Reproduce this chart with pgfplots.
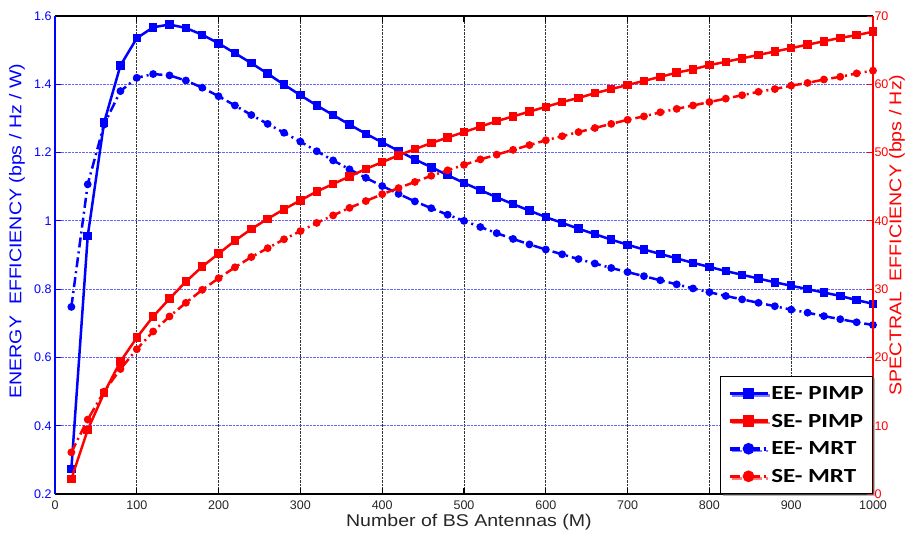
\documentclass[border=0pt]{standalone}
\usepackage{fontspec}
\setmainfont{Liberation Sans}
\newfontfamily\labelfont[FakeStretch=1.15]{Liberation Sans}
\newfontfamily\legfont[FakeStretch=1.25]{Carlito}
\usepackage{pgfplots}
\pgfplotsset{compat=1.18}
\usetikzlibrary{shadows}

\pgfplotsset{
  common/.style={
    scale only axis, width=818pt, height=478pt,
    xmin=0, xmax=1000,
    tick align=inside,
    major tick length=6pt,
    /pgf/number format/assume math mode=true,
    /pgf/number format/1000 sep={},
    tick label style={font=\fontsize{12.5}{14}\selectfont},
  },
  pimp/.style={line width=2.5pt, mark=square*, mark size=3pt},
  mrt/.style={line width=2.5pt, mark=*, mark size=2.6pt,
    dash pattern=on 10pt off 4pt on 2pt off 4pt, mark options={solid}},
}

\begin{document}
\begin{tikzpicture}
\useasboundingbox (-55pt,-42pt) rectangle (853pt,494pt);

\begin{axis}[
  common,
  ymin=0.2, ymax=1.6,
  axis x line=box, axis y line*=left,
  x axis line style={black, line width=1.2pt, -},
  y axis line style={blue, line width=1.2pt, -},
  xtick={0,100,...,1000},
  ytick={0.2,0.4,0.6,0.8,1,1.2,1.4,1.6},
  x tick style={black, line width=1.2pt},
  y tick style={blue, line width=1pt},
  xticklabel style={black!85, yshift=-3pt},
  yticklabel style={blue},
  xmajorgrids, ymajorgrids,
  x grid style={black!80, densely dotted, line width=0.7pt},
  y grid style={blue!60, densely dotted, line width=0.8pt},
  xlabel={\labelfont\fontsize{17}{20}\selectfont Number\ of\ BS\ Antennas\ (M)},
  xlabel style={at={(axis description cs:0.506,-0.059)}, anchor=center, black!85},
  ylabel={\labelfont\fontsize{17}{20}\selectfont ENERGY\ \ EFFICIENCY (bps / Hz / W)},
  ylabel style={at={(axis description cs:-0.0465,0.55)}, anchor=center, blue},
]
\addplot[pimp, blue] coordinates {
 (20,0.273) (40,0.955) (60,1.288) (80,1.455) (100,1.535) (120,1.567) (140,1.575)
 (160,1.565) (180,1.545) (200,1.520) (220,1.491) (240,1.462) (260,1.431) (280,1.399)
 (300,1.368) (320,1.338) (340,1.310) (360,1.282) (380,1.255) (400,1.230) (420,1.205)
 (440,1.180) (460,1.157) (480,1.134) (500,1.111) (520,1.090) (540,1.069) (560,1.049)
 (580,1.030) (600,1.011) (620,0.994) (640,0.977) (660,0.961) (680,0.945) (700,0.930)
 (720,0.916) (740,0.903) (760,0.890) (780,0.877) (800,0.865) (820,0.853) (840,0.842)
 (860,0.831) (880,0.820) (900,0.810) (920,0.800) (940,0.790) (960,0.780) (980,0.768)
 (1000,0.757)
};
\addplot[mrt, blue] coordinates {
 (20,0.748) (40,1.107) (60,1.282) (80,1.380) (100,1.419) (120,1.430) (140,1.426)
 (160,1.411) (180,1.390) (200,1.365) (220,1.338) (240,1.310) (260,1.284) (280,1.258)
 (300,1.232) (320,1.204) (340,1.177) (360,1.151) (380,1.126) (400,1.102) (420,1.079)
 (440,1.057) (460,1.037) (480,1.018) (500,1.000) (520,0.982) (540,0.964) (560,0.947)
 (580,0.931) (600,0.916) (620,0.902) (640,0.888) (660,0.875) (680,0.862) (700,0.850)
 (720,0.838) (740,0.826) (760,0.814) (780,0.802) (800,0.791) (820,0.780) (840,0.770)
 (860,0.760) (880,0.750) (900,0.740) (920,0.731) (940,0.721) (960,0.712) (980,0.703)
 (1000,0.695)
};
\end{axis}

\begin{axis}[
  common,
  ymin=0, ymax=70,
  axis x line=none, axis y line*=right,
  y axis line style={red, line width=1.2pt, -},
  ytick={0,10,...,70},
  y tick style={red, line width=1pt},
  yticklabel style={red, xshift=-2pt},
  ylabel={\labelfont\fontsize{17}{20}\selectfont SPECTRAL\ \ EFFICIENCY (bps / Hz)},
  ylabel style={at={(axis description cs:1.0293,0.542)}, anchor=center, red},
  legend cell align=left,
  legend style={at={(axis description cs:1,0)}, anchor=south east,
    draw=black, line width=0.8pt, fill=white,
    drop shadow={shadow xshift=2pt, shadow yshift=-2pt, fill=black!55},
    font=\legfont\bfseries\fontsize{20}{23}\selectfont,
    row sep=9pt, inner xsep=7pt, inner ysep=8pt},
  legend image code/.code={%
    \draw[mark repeat=2, mark phase=2, #1, line width=3.5pt, mark size=4pt] plot coordinates {(0pt,0pt) (19pt,0pt) (38pt,0pt)};},
]
\addlegendimage{pimp, blue}
\addlegendentry{EE- PIMP}
\addplot[pimp, red] coordinates {
 (20,2.2) (40,9.4) (60,14.8) (80,19.4) (100,22.9) (120,26.0) (140,28.6)
 (160,31.1) (180,33.3) (200,35.2) (220,37.1) (240,38.8) (260,40.3) (280,41.7)
 (300,43.0) (320,44.3) (340,45.4) (360,46.5) (380,47.6) (400,48.6) (420,49.6)
 (440,50.5) (460,51.4) (480,52.2) (500,53.0) (520,53.8) (540,54.6) (560,55.3)
 (580,56.0) (600,56.7) (620,57.4) (640,58.0) (660,58.7) (680,59.3) (700,59.9)
 (720,60.5) (740,61.1) (760,61.7) (780,62.2) (800,62.8) (820,63.3) (840,63.8)
 (860,64.3) (880,64.8) (900,65.3) (920,65.8) (940,66.3) (960,66.8) (980,67.2)
 (1000,67.7)
};
\addlegendentry{SE- PIMP}
\addlegendimage{mrt, blue}
\addlegendentry{EE- MRT}
\addplot[mrt, red] coordinates {
 (20,6.1) (40,10.9) (60,15.0) (80,18.3) (100,21.2) (120,23.8) (140,26.0)
 (160,28.0) (180,29.9) (200,31.6) (220,33.2) (240,34.7) (260,36.0) (280,37.3)
 (300,38.5) (320,39.7) (340,40.8) (360,41.9) (380,42.9) (400,43.9) (420,44.8)
 (440,45.7) (460,46.6) (480,47.4) (500,48.2) (520,49.0) (540,49.7) (560,50.4)
 (580,51.1) (600,51.8) (620,52.4) (640,53.0) (660,53.6) (680,54.2) (700,54.8)
 (720,55.3) (740,55.9) (760,56.4) (780,56.9) (800,57.4) (820,57.9) (840,58.4)
 (860,58.9) (880,59.3) (900,59.8) (920,60.2) (940,60.7) (960,61.1) (980,61.6)
 (1000,62.0)
};
\addlegendentry{SE- MRT}
\end{axis}
\end{tikzpicture}
\end{document}
